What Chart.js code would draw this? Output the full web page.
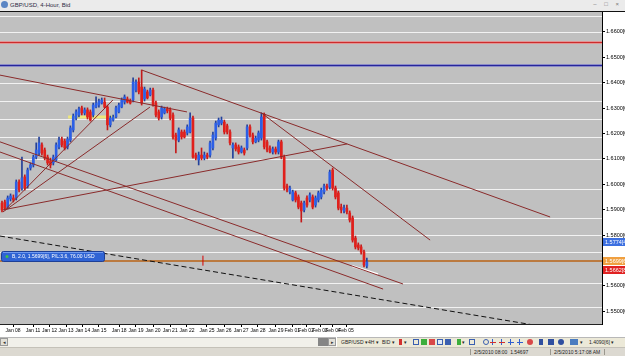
<!DOCTYPE html>
<html>
<head>
<meta charset="utf-8">
<script src="https://cdn.jsdelivr.net/npm/chart.js@4.4.1/dist/chart.umd.min.js"></script>
<style>
  body { margin: 0; width: 625px; height: 356px; overflow: hidden; background: #fff; position: relative; font-family: "Liberation Sans", Arial, sans-serif; }
  #title { position: absolute; left: 0; top: 0; width: 625px; height: 11px; background: #ebebeb; border-bottom: 1px solid #111; }
  #title .icon { position: absolute; left: 1px; top: 1px; width: 7px; height: 7px; border-radius: 50%; background: #5b86c4; }
  #title .txt { position: absolute; left: 10px; top: 1px; font-size: 6px; line-height: 8px; color: #2b2b44; }
  #title .btns { position: absolute; right: 3px; top: 0; font-size: 6px; line-height: 8px; color: #777; letter-spacing: 3px; }
  #chart { position: absolute; left: 0; top: 12px; }
  #scroll { position: absolute; left: 0; top: 337px; width: 336px; height: 10px; background: #f1f0ea; border-top: 1px solid #b8b8b8; box-sizing: border-box; }
  #scroll .btn { position: absolute; top: 0; width: 8px; height: 8px; background: #e2e0d8; border: 1px solid #999; box-sizing: border-box; font-size: 5px; line-height: 6px; text-align: center; color: #333; }
  #scroll .thumb { position: absolute; left: 318px; top: 0; width: 10px; height: 8px; background: #858585; }
  #tools { position: absolute; left: 337px; top: 337px; width: 288px; height: 10px; background: #ece9d8; border-top: 1px solid #b8b8b8; box-sizing: border-box; font-size: 5px; line-height: 9px; color: #222; }
  #tools span { position: absolute; top: 0; }
  #tools i { position: absolute; top: 1px; width: 6px; height: 6px; }
  #status { position: absolute; left: 0; top: 347px; width: 625px; height: 9px; background: #dcd9d1; border-top: 1px solid #c4c1b8; box-sizing: border-box; font-size: 5px; line-height: 8px; color: #222; }
  #status span { position: absolute; top: 0; }
  #status b { position: absolute; top: 1px; width: 1px; height: 6px; background: #9a978e; }
</style>
</head>
<body>
<div id="title"><div class="icon"></div><div class="txt">GBP/USD, 4-Hour, Bid</div><div class="btns">– □ ×</div></div>
<canvas id="chart" width="625" height="325"></canvas>
<div id="scroll">
  <div class="btn" style="left:0">◂</div>
  <div class="thumb"></div>
  <div class="btn" style="left:328px">▸</div>
</div>
<div id="tools">
  <span style="left:4px">GBP/USD ▾</span>
  <span style="left:31px">4H ▾</span>
  <span style="left:45px">BID ▾</span>
  <i style="left:62px;background:#d23030;width:3px"></i><span style="left:67px">▾</span>
  <i style="left:76px;border:1px solid #3a5fb0;box-sizing:border-box"></i>
  <i style="left:84px;background:#3cae3c"></i>
  <i style="left:92px;background:#d84848"></i>
  <i style="left:100px;border:1px solid #3a5fb0;box-sizing:border-box;background:#dfe8f8"></i>
  <i style="left:108px;background:#3a5fb0"></i>
  <i style="left:120px;background:#3cae3c;width:4px"></i><span style="left:125px">▾</span>
  <i style="left:132px;border:1px solid #3a5fb0;box-sizing:border-box"></i>
  <i style="left:146px;border:1px solid #3a5fb0;border-radius:50%;box-sizing:border-box"></i>
  <i style="left:155px;background:#2f5fd0;width:1px"></i><i style="left:153px;top:4px;background:#d23030;height:1px"></i>
  <i style="left:164px;background:#2f5fd0;width:1px"></i><i style="left:162px;top:4px;background:#d23030;height:1px"></i>
  <i style="left:173px;background:#2f5fd0;width:1px"></i><i style="left:171px;top:4px;background:#2f5fd0;height:1px"></i>
  <i style="left:182px;background:#2f5fd0;width:1px"></i><i style="left:180px;top:4px;background:#2f5fd0;height:1px"></i>
  <i style="left:190px;background:#d84848;border-radius:50%"></i>
  <i style="left:202px;background:#2f4fa0;width:4px"></i>
  <i style="left:211px;background:#2f4fa0"></i>
  <i style="left:221px;background:#2f4fa0;border-radius:50%"></i>
  <i style="left:233px;background:#4a7cc0;width:8px"></i><span style="left:243px">▾</span>
  <span style="left:252px">1.4090[6] ▾</span>
</div>
<div id="status">
  <b style="left:470px"></b>
  <span style="left:474px">2/5/2010 08:00&nbsp;&nbsp;1.54697</span>
  <b style="left:550px"></b>
  <span style="left:554px">2/5/2010 5:17:08 AM</span>
  <b style="left:604px"></b>
</div>

<script>
// GBP/USD 4-hour candles, Jan 08 - Feb 05 2010 (one entry per bar)
const opens = [
  1.5926, 1.5930, 1.5910, 1.5942, 1.5946, 1.5946, 1.6009, 1.5985, 1.6029, 1.5993,
  1.6064, 1.6076, 1.6107, 1.6123, 1.6155, 1.6135, 1.6107, 1.6092, 1.6084, 1.6096,
  1.6147, 1.6178, 1.6170, 1.6147, 1.6174, 1.6214, 1.6261, 1.6273, 1.6301, 1.6281,
  1.6293, 1.6285, 1.6273, 1.6304, 1.6312, 1.6320, 1.6324, 1.6304, 1.6234, 1.6253,
  1.6265, 1.6285, 1.6304, 1.6324, 1.6336, 1.6328, 1.6332, 1.6371, 1.6403, 1.6383,
  1.6336, 1.6364, 1.6352, 1.6371, 1.6320, 1.6285, 1.6265, 1.6281, 1.6297, 1.6293,
  1.6273, 1.6194, 1.6174, 1.6206, 1.6206, 1.6202, 1.6206, 1.6261, 1.6115, 1.6096,
  1.6115, 1.6103, 1.6115, 1.6115, 1.6143, 1.6182, 1.6234, 1.6241, 1.6245, 1.6230,
  1.6206, 1.6143, 1.6155, 1.6147, 1.6127, 1.6135, 1.6143, 1.6226, 1.6194, 1.6167,
  1.6174, 1.6182, 1.6273, 1.6167, 1.6143, 1.6127, 1.6139, 1.6127, 1.6167, 1.6107,
  1.5993, 1.5970, 1.5938, 1.5966, 1.5950, 1.5926, 1.5899, 1.5946, 1.5938, 1.5950,
  1.5918, 1.5938, 1.5950, 1.5970, 1.5993, 1.5989, 1.6056, 1.5985, 1.5966, 1.5910,
  1.5895, 1.5906, 1.5887, 1.5867, 1.5788, 1.5761, 1.5753, 1.5733, 1.5678
];
const highs = [
  1.5934, 1.5938, 1.5954, 1.5962, 1.5958, 1.6017, 1.6017, 1.6107, 1.6037, 1.6064,
  1.6084, 1.6115, 1.6163, 1.6186, 1.6163, 1.6143, 1.6115, 1.6103, 1.6115, 1.6163,
  1.6186, 1.6186, 1.6178, 1.6186, 1.6230, 1.6277, 1.6293, 1.6304, 1.6308, 1.6301,
  1.6301, 1.6293, 1.6320, 1.6344, 1.6336, 1.6340, 1.6340, 1.6312, 1.6269, 1.6273,
  1.6308, 1.6320, 1.6340, 1.6352, 1.6344, 1.6336, 1.6419, 1.6411, 1.6419, 1.6450,
  1.6383, 1.6371, 1.6379, 1.6379, 1.6328, 1.6293, 1.6308, 1.6304, 1.6304, 1.6301,
  1.6281, 1.6202, 1.6222, 1.6214, 1.6214, 1.6234, 1.6281, 1.6269, 1.6123, 1.6127,
  1.6143, 1.6127, 1.6123, 1.6170, 1.6206, 1.6249, 1.6261, 1.6265, 1.6253, 1.6237,
  1.6214, 1.6163, 1.6163, 1.6155, 1.6151, 1.6143, 1.6234, 1.6234, 1.6202, 1.6190,
  1.6210, 1.6281, 1.6281, 1.6174, 1.6151, 1.6147, 1.6147, 1.6174, 1.6174, 1.6115,
  1.6001, 1.5993, 1.5977, 1.5973, 1.5958, 1.5934, 1.5934, 1.5954, 1.5966, 1.5958,
  1.5954, 1.5973, 1.5985, 1.6001, 1.6001, 1.6056, 1.6064, 1.5993, 1.5973, 1.5922,
  1.5918, 1.5918, 1.5895, 1.5875, 1.5796, 1.5769, 1.5761, 1.5741, 1.5709
];
const lows = [
  1.5891, 1.5899, 1.5903, 1.5934, 1.5930, 1.5938, 1.5970, 1.5977, 1.5977, 1.5985,
  1.6056, 1.6068, 1.6100, 1.6115, 1.6115, 1.6096, 1.6076, 1.6064, 1.6076, 1.6092,
  1.6139, 1.6147, 1.6135, 1.6139, 1.6167, 1.6206, 1.6253, 1.6265, 1.6273, 1.6273,
  1.6257, 1.6249, 1.6265, 1.6301, 1.6304, 1.6316, 1.6301, 1.6214, 1.6226, 1.6249,
  1.6261, 1.6281, 1.6301, 1.6316, 1.6320, 1.6316, 1.6324, 1.6364, 1.6356, 1.6312,
  1.6328, 1.6336, 1.6348, 1.6308, 1.6265, 1.6253, 1.6257, 1.6277, 1.6281, 1.6253,
  1.6178, 1.6123, 1.6167, 1.6178, 1.6182, 1.6194, 1.6202, 1.6103, 1.6096, 1.6076,
  1.6096, 1.6096, 1.6100, 1.6107, 1.6135, 1.6174, 1.6226, 1.6234, 1.6198, 1.6198,
  1.6155, 1.6103, 1.6131, 1.6119, 1.6123, 1.6115, 1.6135, 1.6186, 1.6159, 1.6163,
  1.6167, 1.6174, 1.6139, 1.6127, 1.6123, 1.6119, 1.6119, 1.6119, 1.6100, 1.5977,
  1.5970, 1.5962, 1.5934, 1.5930, 1.5903, 1.5851, 1.5891, 1.5910, 1.5930, 1.5903,
  1.5910, 1.5930, 1.5942, 1.5962, 1.5977, 1.5981, 1.5977, 1.5942, 1.5899, 1.5887,
  1.5887, 1.5883, 1.5851, 1.5772, 1.5745, 1.5741, 1.5725, 1.5674, 1.5670
];
const closes = [
  1.5899, 1.5906, 1.5946, 1.5954, 1.5938, 1.6009, 1.5977, 1.6025, 1.5985, 1.6056,
  1.6076, 1.6107, 1.6135, 1.6163, 1.6123, 1.6103, 1.6084, 1.6076, 1.6107, 1.6155,
  1.6174, 1.6155, 1.6143, 1.6178, 1.6222, 1.6269, 1.6285, 1.6297, 1.6281, 1.6293,
  1.6265, 1.6253, 1.6312, 1.6320, 1.6328, 1.6332, 1.6304, 1.6234, 1.6261, 1.6265,
  1.6301, 1.6312, 1.6332, 1.6344, 1.6324, 1.6320, 1.6403, 1.6403, 1.6364, 1.6320,
  1.6375, 1.6340, 1.6371, 1.6312, 1.6273, 1.6261, 1.6301, 1.6297, 1.6289, 1.6261,
  1.6186, 1.6174, 1.6214, 1.6186, 1.6186, 1.6226, 1.6261, 1.6107, 1.6103, 1.6115,
  1.6103, 1.6115, 1.6107, 1.6163, 1.6194, 1.6241, 1.6253, 1.6253, 1.6206, 1.6206,
  1.6163, 1.6155, 1.6139, 1.6127, 1.6143, 1.6123, 1.6226, 1.6194, 1.6167, 1.6182,
  1.6202, 1.6265, 1.6147, 1.6135, 1.6127, 1.6139, 1.6127, 1.6167, 1.6107, 1.5985,
  1.5977, 1.5985, 1.5970, 1.5938, 1.5910, 1.5895, 1.5926, 1.5918, 1.5958, 1.5910,
  1.5946, 1.5966, 1.5977, 1.5993, 1.5985, 1.6048, 1.5985, 1.5950, 1.5906, 1.5899,
  1.5906, 1.5891, 1.5859, 1.5780, 1.5753, 1.5749, 1.5733, 1.5682, 1.5694
];

// date labels on the time axis and the bar index they sit at
const dayLabels = ["Jan 08", "Jan 11", "Jan 12", "Jan 13", "Jan 14", "Jan 15", "Jan 18", "Jan 19", "Jan 20", "Jan 21",
  "Jan 22", "Jan 25", "Jan 26", "Jan 27", "Jan 28", "Jan 29", "Feb 01", "Feb 02", "Feb 03", "Feb 04", "Feb 05"];
const dayLabelBars = [3.9, 10.9, 16.7, 22.5, 28.3, 34.0, 41.1, 47.0, 53.0, 59.0,
  64.9, 71.9, 77.9, 83.9, 89.8, 96.1, 101.8, 106.7, 111.6, 116.1, 120.7];
const priceTicks = [1.55, 1.56, 1.57, 1.58, 1.59, 1.60, 1.61, 1.62, 1.63, 1.64, 1.65, 1.66];

// horizontal objects (prices)
const levelLines = [1.6663, 1.6600, 1.6400, 1.6328, 1.6257, 1.6186, 1.6100, 1.5981, 1.5867, 1.5800, 1.5733, 1.5611, 1.5516];
const redLevel = 1.6561;
const blueLevel = 1.6470;
const positionPrice = 1.5699;
const positionText = "B, 2.0, 1.5699[6], P/L:3.6, 76.00 USD";
const axisMarkers = [
  { price: 1.5774, text: "1.5774[4]", color: "#3c6fe0" },
  { price: 1.5699, text: "1.5699[6]", color: "#f0a040" },
  { price: 1.5662, text: "1.5662[8]", color: "#e02222" },
];

// trend lines: [startBar, startPrice, endBar, endPrice]
const trendLines = [
  [-0.7, 1.6430, 64.9, 1.6285],
  [49, 1.6450, 192.3, 1.5871],
  [91, 1.6281, 150.2, 1.5780],
  [0.35, 1.5899, 121.1, 1.6159],
  [1, 1.5899, 38.9, 1.6332],
  [0.35, 1.5891, 51.9, 1.6304],
  [-0.7, 1.6167, 140.7, 1.5607],
  [-0.7, 1.6127, 133.7, 1.5587],
];
const dashedLine = [-0.7, 1.5796, 190.5, 1.5438];
const whiteLine = [122.8, 1.5678, 131.9, 1.5646];
const yellowLine = [23.2, 1.6265, 39.6, 1.6265];
const entryMarker = { bar: 70.5, price: 1.5699 };

const xMin = -0.7, xMax = 210.5;
const yMin = 1.54494, yMax = 1.66787;

const isUp = (i) => closes[i] >= opens[i];

const lineSet = (seg, color, width, dash, order) => ({
  type: "line",
  data: [{ x: seg[0], y: seg[1] }, { x: seg[2], y: seg[3] }],
  borderColor: color,
  borderWidth: width,
  borderDash: dash || [],
  pointRadius: 0,
  order: order || 1,
});

const chartBg = {
  id: "chartBg",
  beforeDraw(chart) {
    const { ctx, chartArea: a } = chart;
    ctx.save();
    ctx.fillStyle = "#fff";
    ctx.fillRect(0, 0, chart.width, chart.height);
    ctx.fillStyle = "#c0c0c0";
    ctx.fillRect(a.left, a.top, a.right - a.left, a.bottom - a.top);
    ctx.restore();
  },
};

const hLines = {
  id: "hLines",
  beforeDatasetsDraw(chart) {
    const { ctx, chartArea: a, scales } = chart;
    const draw = (price, color, width) => {
      let py = Math.round(scales.y.getPixelForValue(price));
      if (width % 2) py += 0.5;
      ctx.strokeStyle = color;
      ctx.lineWidth = width;
      ctx.beginPath();
      ctx.moveTo(a.left, py);
      ctx.lineTo(a.right, py);
      ctx.stroke();
    };
    ctx.save();
    levelLines.forEach((p) => draw(p, "#f2f2f2", 1));
    draw(redLevel, "#e29494", 3);
    draw(redLevel, "#cc2c2c", 1);
    draw(blueLevel, "#8a8ac8", 3);
    draw(blueLevel, "#26269a", 1);
    draw(positionPrice, "#bb7a40", 2);
    ctx.restore();
  },
};

const labels = {
  id: "labels",
  afterDraw(chart) {
    const { ctx, chartArea: a, scales } = chart;
    ctx.save();
    ctx.font = "5.5px 'Liberation Sans'";
    ctx.textBaseline = "middle";
    axisMarkers.forEach((m) => {
      const py = Math.round(scales.y.getPixelForValue(m.price));
      ctx.fillStyle = m.color;
      ctx.fillRect(a.right + 1, py - 4, chart.width - a.right - 1, 8);
      ctx.fillStyle = "#fff";
      ctx.fillText(m.text, a.right + 3, py);
    });

    // open position tag sitting on the order line
    const py = Math.round(scales.y.getPixelForValue(positionPrice));
    const x0 = a.left + 1, w = 103, h = 10, y0 = py - h;
    ctx.fillStyle = "#2f63d4";
    ctx.strokeStyle = "#1d3f96";
    ctx.lineWidth = 1;
    ctx.beginPath();
    ctx.roundRect(x0 + 0.5, y0 + 0.5, w, h, 2);
    ctx.fill();
    ctx.stroke();
    ctx.fillStyle = "#6f9af0";
    ctx.fillRect(x0 + 2, y0 + 1, w - 3, 1);
    ctx.fillStyle = "#3fc24a";
    ctx.beginPath();
    ctx.arc(x0 + 6, y0 + h / 2 + 0.5, 1.5, 0, Math.PI * 2);
    ctx.fill();
    ctx.fillStyle = "#fff";
    ctx.font = "5px 'Liberation Sans'";
    ctx.fillText(positionText, x0 + 11, y0 + h / 2 + 1);
    ctx.restore();
  },
};

const wicks = highs.map((h, i) => ({ x: i, y: [lows[i], h] }));
const bodies = opens.map((o, i) => ({ x: i, y: [o, closes[i]] }));

new Chart(document.getElementById("chart"), {
  type: "bar",
  data: {
    datasets: [
      ...trendLines.map((t) => lineSet(t, "#8a2b2b", 1)),
      lineSet(dashedLine, "#111", 1, [5, 3]),
      lineSet(whiteLine, "#fff", 2),
      lineSet(yellowLine, "#eee77a", 3, null, 6),
      {
        type: "line",
        data: [{ x: entryMarker.bar, y: entryMarker.price }],
        showLine: false,
        pointStyle: "line",
        rotation: 90,
        pointRadius: 5,
        borderColor: "#d40000",
        borderWidth: 1,
        order: 1,
      },
      {
        data: bodies,
        backgroundColor: (c) => (isUp(c.dataIndex) ? "#2c5fe6" : "#e0201c"),
        barThickness: 2,
        minBarLength: 1,
        grouped: false,
        borderWidth: 0,
        order: 2,
      },
      {
        data: wicks,
        backgroundColor: (c) => (isUp(c.dataIndex) ? "#22409a" : "#c41a1a"),
        barThickness: 1,
        grouped: false,
        borderWidth: 0,
        order: 3,
      },
    ],
  },
  options: {
    responsive: false,
    animation: false,
    layout: { padding: 0, autoPadding: false },
    plugins: { legend: { display: false }, tooltip: { enabled: false } },
    scales: {
      x: {
        type: "linear",
        min: xMin,
        max: xMax,
        offset: false,
        grid: { offset: false, drawOnChartArea: false, drawTicks: true, tickLength: 3, color: "#000" },
        border: { display: true, color: "#222" },
        ticks: {
          font: { family: "Liberation Sans", size: 5 },
          color: "#000",
          padding: 1,
          maxRotation: 0,
          autoSkip: false,
          callback: (v, i) => dayLabels[i],
        },
        afterBuildTicks: (s) => {
          s.ticks = dayLabelBars.map((v) => ({ value: v }));
        },
        afterFit: (s) => {
          s.height = 13;
          s.paddingLeft = 0;
          s.paddingRight = 0;
        },
      },
      y: {
        position: "right",
        min: yMin,
        max: yMax,
        grid: { drawOnChartArea: false, drawTicks: true, tickLength: 3, color: "#000" },
        border: { display: true, color: "#000" },
        ticks: {
          font: { family: "Liberation Sans", size: 5.5 },
          color: "#000",
          padding: 1,
          callback: (v) => v.toFixed(4) + "[0]",
        },
        afterBuildTicks: (s) => {
          s.ticks = priceTicks.map((v) => ({ value: v }));
        },
        afterFit: (s) => {
          s.width = 23;
          s.paddingTop = 0;
          s.paddingBottom = 0;
        },
      },
    },
  },
  plugins: [chartBg, hLines, labels],
});
</script>
</body>
</html>
